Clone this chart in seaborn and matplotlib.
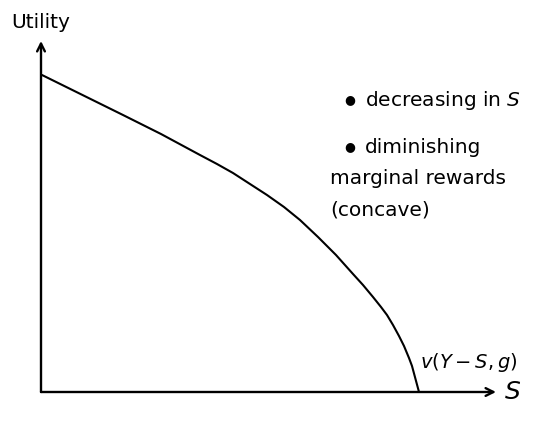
import matplotlib
matplotlib.use("Agg")
import matplotlib.pyplot as plt
import seaborn as sns
import pandas as pd

sns.set_theme(style="white")
plt.rcParams['font.family'] = ['DejaVu Sans']
plt.rcParams['mathtext.fontset'] = 'dejavusans'
plt.rcParams['text.color'] = 'black'

# Curve v(Y - S, g) (arbitrary units)
savings = [1, 82, 120, 159, 176, 192, 209, 226, 243, 259, 277, 295, 312,
           322, 332, 340, 346, 352, 358, 363, 368, 371, 378]
utility = [317, 277, 258, 237, 228, 219, 208, 197, 185, 172, 155, 137, 118,
           107, 95, 85, 77, 67, 56, 46, 34, 26, 0]
df = pd.DataFrame({"S": savings, "U": utility})

fig = plt.figure(figsize=(5.57, 4.25), dpi=100)
ax = fig.add_axes([0, 0, 1, 1])
ax.set_xlim(-41, 516)
ax.set_ylim(-33, 392)
ax.axis("off")

sns.lineplot(data=df, x="S", y="U", sort=False, color="black", lw=1.5, ax=ax)

arrow = dict(arrowstyle="->", lw=1.7, color="black", shrinkA=0, shrinkB=0,
             mutation_scale=14)
ax.annotate("", xy=(0, 351), xytext=(0, 0), arrowprops=arrow)
ax.annotate("", xy=(455, 0), xytext=(0, 0), arrowprops=arrow)

fs = 14.5
ax.text(0, 370, "Utility", ha="center", va="center", fontsize=fs)
ax.text(463, 0, r"$S$", ha="left", va="center", fontsize=18)
ax.text(379, 30, r"$v(Y-S,g)$", ha="left", va="center", fontsize=14)

ax.text(309, 292, "●", ha="center", va="center", fontsize=9)
ax.text(324, 292, r"decreasing in $S$", ha="left", va="center", fontsize=fs)
ax.text(309, 245, "●", ha="center", va="center", fontsize=9)
ax.text(324, 245, "diminishing", ha="left", va="center", fontsize=fs)
ax.text(289, 214, "marginal rewards", ha="left", va="center", fontsize=fs)
ax.text(289, 182, "(concave)", ha="left", va="center", fontsize=fs)

fig.savefig("out.png", dpi=100)
